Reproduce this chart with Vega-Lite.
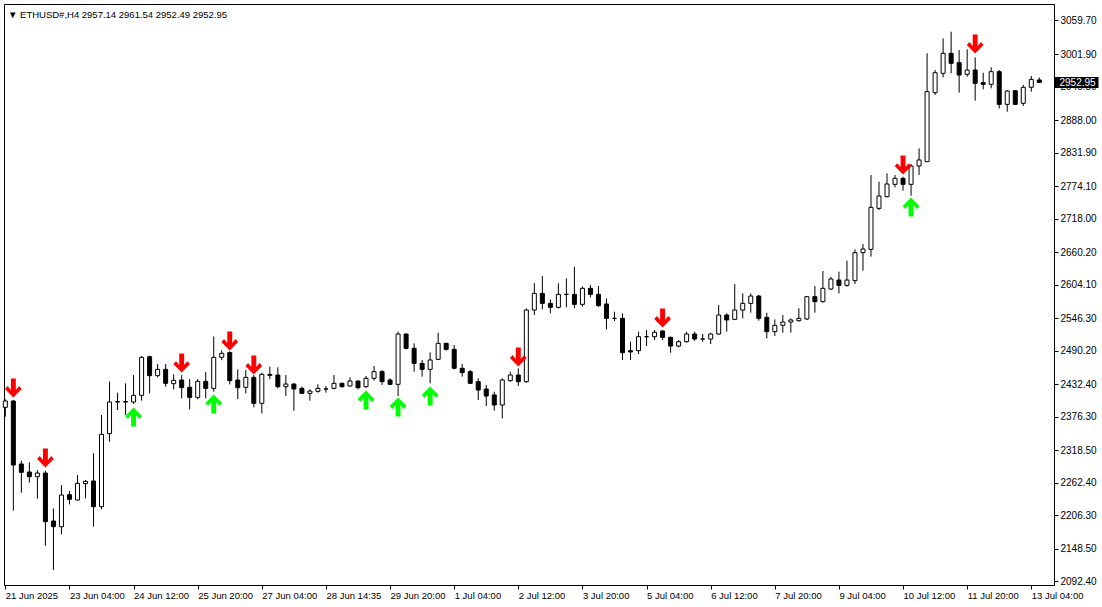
{
  "$schema": "https://vega.github.io/schema/vega-lite/v6.json",
  "width": 1050,
  "height": 581,
  "autosize": "none",
  "padding": {"left": 4, "top": 4, "right": 48, "bottom": 22},
  "background": "white",
  "title": {
    "text": "▼ ETHUSD#,H4  2957.14 2961.54 2952.49 2952.95",
    "anchor": "start",
    "frame": "group",
    "orient": "top",
    "baseline": "alphabetic",
    "offset": -12.5,
    "dx": 4,
    "dy": 10.5,
    "font": "Liberation Sans",
    "fontSize": 9.5,
    "fontWeight": "normal",
    "color": "black"
  },
  "data": {
    "values": [
      {"t": "21 Jun 2025", "o": 2392.7, "h": 2406.5, "l": 2376.6, "c": 2403.6},
      {"t": "22 Jun 00:00", "o": 2403.6, "h": 2405.3, "l": 2214.5, "c": 2293.2, "sell": 2426.0},
      {"t": "22 Jun 04:00", "o": 2295.0, "h": 2300.7, "l": 2245.5, "c": 2280.6},
      {"t": "22 Jun 08:00", "o": 2281.2, "h": 2297.8, "l": 2262.8, "c": 2273.1},
      {"t": "22 Jun 12:00", "o": 2273.1, "h": 2284.6, "l": 2235.2, "c": 2279.4},
      {"t": "22 Jun 16:00", "o": 2279.4, "h": 2283.5, "l": 2154.1, "c": 2195.5, "sell": 2305.3},
      {"t": "22 Jun 20:00", "o": 2196.7, "h": 2218.5, "l": 2112.2, "c": 2186.9},
      {"t": "23 Jun 00:00", "o": 2186.9, "h": 2258.8, "l": 2173.7, "c": 2241.5},
      {"t": "23 Jun 04:00", "o": 2242.1, "h": 2248.4, "l": 2225.4, "c": 2234.0},
      {"t": "23 Jun 08:00", "o": 2232.9, "h": 2276.0, "l": 2231.7, "c": 2261.6},
      {"t": "23 Jun 12:00", "o": 2261.1, "h": 2267.4, "l": 2235.8, "c": 2265.1},
      {"t": "23 Jun 16:00", "o": 2265.7, "h": 2313.4, "l": 2186.9, "c": 2221.4},
      {"t": "23 Jun 20:00", "o": 2221.4, "h": 2379.5, "l": 2216.8, "c": 2346.1},
      {"t": "24 Jun 00:00", "o": 2347.3, "h": 2437.0, "l": 2333.5, "c": 2401.9},
      {"t": "24 Jun 04:00", "o": 2402.5, "h": 2418.0, "l": 2388.1, "c": 2401.9},
      {"t": "24 Jun 08:00", "o": 2402.5, "h": 2434.1, "l": 2379.5, "c": 2401.9},
      {"t": "24 Jun 12:00", "o": 2401.9, "h": 2448.4, "l": 2398.4, "c": 2413.4, "buy": 2376.0},
      {"t": "24 Jun 16:00", "o": 2413.4, "h": 2481.2, "l": 2404.2, "c": 2478.9},
      {"t": "24 Jun 20:00", "o": 2480.0, "h": 2481.8, "l": 2416.8, "c": 2447.3},
      {"t": "25 Jun 00:00", "o": 2447.3, "h": 2467.4, "l": 2444.4, "c": 2458.2},
      {"t": "25 Jun 04:00", "o": 2458.2, "h": 2467.4, "l": 2428.3, "c": 2434.1},
      {"t": "25 Jun 08:00", "o": 2433.5, "h": 2449.6, "l": 2423.7, "c": 2439.2},
      {"t": "25 Jun 12:00", "o": 2439.8, "h": 2448.4, "l": 2408.2, "c": 2426.6, "sell": 2469.1},
      {"t": "25 Jun 16:00", "o": 2427.2, "h": 2441.5, "l": 2389.2, "c": 2409.9},
      {"t": "25 Jun 20:00", "o": 2409.9, "h": 2441.5, "l": 2406.5, "c": 2437.5},
      {"t": "26 Jun 00:00", "o": 2437.5, "h": 2453.6, "l": 2408.2, "c": 2425.4},
      {"t": "26 Jun 04:00", "o": 2425.4, "h": 2515.0, "l": 2419.7, "c": 2478.9, "buy": 2398.4},
      {"t": "26 Jun 08:00", "o": 2478.9, "h": 2491.0, "l": 2474.0, "c": 2485.8},
      {"t": "26 Jun 12:00", "o": 2487.0, "h": 2489.5, "l": 2432.3, "c": 2438.7, "sell": 2507.1},
      {"t": "26 Jun 16:00", "o": 2439.8, "h": 2458.2, "l": 2407.0, "c": 2426.6},
      {"t": "26 Jun 20:00", "o": 2427.2, "h": 2457.0, "l": 2416.8, "c": 2444.4},
      {"t": "27 Jun 00:00", "o": 2444.4, "h": 2448.4, "l": 2392.7, "c": 2399.6, "sell": 2465.7},
      {"t": "27 Jun 04:00", "o": 2399.6, "h": 2452.5, "l": 2382.3, "c": 2449.6},
      {"t": "27 Jun 08:00", "o": 2449.6, "h": 2462.8, "l": 2441.0, "c": 2447.9},
      {"t": "27 Jun 12:00", "o": 2448.4, "h": 2461.7, "l": 2425.4, "c": 2428.3},
      {"t": "27 Jun 16:00", "o": 2428.3, "h": 2448.4, "l": 2412.2, "c": 2432.9},
      {"t": "27 Jun 20:00", "o": 2432.9, "h": 2434.1, "l": 2386.9, "c": 2424.3},
      {"t": "28 Jun 00:00", "o": 2425.4, "h": 2428.3, "l": 2415.7, "c": 2416.8},
      {"t": "28 Jun 04:00", "o": 2416.8, "h": 2423.7, "l": 2404.2, "c": 2420.8},
      {"t": "28 Jun 08:00", "o": 2420.3, "h": 2432.3, "l": 2418.0, "c": 2425.4},
      {"t": "28 Jun 14:35", "o": 2424.3, "h": 2429.5, "l": 2418.0, "c": 2424.3},
      {"t": "28 Jun 16:00", "o": 2425.4, "h": 2448.4, "l": 2423.7, "c": 2434.1},
      {"t": "28 Jun 20:00", "o": 2434.1, "h": 2435.2, "l": 2426.6, "c": 2428.3},
      {"t": "29 Jun 00:00", "o": 2429.5, "h": 2444.4, "l": 2428.3, "c": 2438.1},
      {"t": "29 Jun 04:00", "o": 2438.1, "h": 2438.7, "l": 2423.7, "c": 2426.6},
      {"t": "29 Jun 08:00", "o": 2428.3, "h": 2446.7, "l": 2426.6, "c": 2442.7, "buy": 2405.3},
      {"t": "29 Jun 12:00", "o": 2442.7, "h": 2464.0, "l": 2438.7, "c": 2454.2},
      {"t": "29 Jun 16:00", "o": 2454.2, "h": 2457.0, "l": 2431.2, "c": 2437.0},
      {"t": "29 Jun 20:00", "o": 2439.8, "h": 2442.7, "l": 2431.2, "c": 2432.3},
      {"t": "30 Jun 00:00", "o": 2432.3, "h": 2523.2, "l": 2412.2, "c": 2519.1, "buy": 2393.3},
      {"t": "30 Jun 04:00", "o": 2519.1, "h": 2520.3, "l": 2492.7, "c": 2494.4},
      {"t": "30 Jun 08:00", "o": 2494.4, "h": 2503.0, "l": 2454.2, "c": 2468.5},
      {"t": "30 Jun 12:00", "o": 2468.5, "h": 2474.3, "l": 2445.6, "c": 2458.2},
      {"t": "30 Jun 16:00", "o": 2458.2, "h": 2487.5, "l": 2434.1, "c": 2474.3, "buy": 2412.2},
      {"t": "30 Jun 20:00", "o": 2475.4, "h": 2521.4, "l": 2474.3, "c": 2503.0},
      {"t": "1 Jul 00:00", "o": 2503.0, "h": 2504.2, "l": 2490.4, "c": 2492.7},
      {"t": "1 Jul 04:00", "o": 2492.7, "h": 2500.2, "l": 2458.2, "c": 2460.0},
      {"t": "1 Jul 08:00", "o": 2460.0, "h": 2467.4, "l": 2445.6, "c": 2452.5},
      {"t": "1 Jul 12:00", "o": 2454.2, "h": 2457.0, "l": 2432.9, "c": 2434.1},
      {"t": "1 Jul 16:00", "o": 2436.9, "h": 2442.7, "l": 2405.3, "c": 2422.6},
      {"t": "1 Jul 20:00", "o": 2424.3, "h": 2431.2, "l": 2395.0, "c": 2412.2},
      {"t": "2 Jul 00:00", "o": 2414.0, "h": 2419.7, "l": 2386.9, "c": 2396.7},
      {"t": "2 Jul 04:00", "o": 2396.7, "h": 2442.7, "l": 2373.7, "c": 2439.8},
      {"t": "2 Jul 08:00", "o": 2438.7, "h": 2454.2, "l": 2436.9, "c": 2448.4},
      {"t": "2 Jul 12:00", "o": 2448.4, "h": 2459.9, "l": 2429.5, "c": 2436.9, "sell": 2479.5},
      {"t": "2 Jul 16:00", "o": 2436.9, "h": 2563.4, "l": 2435.0, "c": 2560.5},
      {"t": "2 Jul 20:00", "o": 2560.5, "h": 2606.5, "l": 2551.9, "c": 2589.2},
      {"t": "3 Jul 00:00", "o": 2589.2, "h": 2619.1, "l": 2561.7, "c": 2572.0},
      {"t": "3 Jul 04:00", "o": 2572.0, "h": 2578.9, "l": 2554.8, "c": 2565.1},
      {"t": "3 Jul 08:00", "o": 2565.1, "h": 2606.5, "l": 2563.0, "c": 2587.5},
      {"t": "3 Jul 12:00", "o": 2587.5, "h": 2615.1, "l": 2565.1, "c": 2587.5},
      {"t": "3 Jul 16:00", "o": 2587.5, "h": 2635.2, "l": 2563.4, "c": 2570.3},
      {"t": "3 Jul 20:00", "o": 2570.3, "h": 2601.0, "l": 2566.3, "c": 2597.9},
      {"t": "4 Jul 00:00", "o": 2597.9, "h": 2603.6, "l": 2582.3, "c": 2587.5},
      {"t": "4 Jul 04:00", "o": 2587.5, "h": 2601.9, "l": 2566.0, "c": 2568.0},
      {"t": "4 Jul 08:00", "o": 2570.9, "h": 2580.6, "l": 2527.2, "c": 2546.1},
      {"t": "4 Jul 12:00", "o": 2546.1, "h": 2557.6, "l": 2541.5, "c": 2546.1},
      {"t": "4 Jul 16:00", "o": 2546.1, "h": 2554.8, "l": 2474.3, "c": 2486.9},
      {"t": "4 Jul 20:00", "o": 2490.4, "h": 2505.9, "l": 2474.3, "c": 2488.1},
      {"t": "5 Jul 00:00", "o": 2490.4, "h": 2523.2, "l": 2484.6, "c": 2514.5},
      {"t": "5 Jul 04:00", "o": 2514.5, "h": 2526.0, "l": 2498.4, "c": 2514.5},
      {"t": "5 Jul 08:00", "o": 2514.5, "h": 2526.0, "l": 2508.8, "c": 2522.0},
      {"t": "5 Jul 12:00", "o": 2524.3, "h": 2526.0, "l": 2508.8, "c": 2513.4, "sell": 2546.7},
      {"t": "5 Jul 16:00", "o": 2513.4, "h": 2514.5, "l": 2486.9, "c": 2498.4},
      {"t": "5 Jul 20:00", "o": 2498.4, "h": 2508.8, "l": 2496.1, "c": 2505.9},
      {"t": "6 Jul 00:00", "o": 2505.9, "h": 2523.2, "l": 2504.2, "c": 2519.1},
      {"t": "6 Jul 04:00", "o": 2519.1, "h": 2523.2, "l": 2507.6, "c": 2510.5},
      {"t": "6 Jul 08:00", "o": 2510.5, "h": 2519.1, "l": 2505.9, "c": 2510.5},
      {"t": "6 Jul 12:00", "o": 2510.5, "h": 2521.4, "l": 2501.9, "c": 2519.1},
      {"t": "6 Jul 16:00", "o": 2519.1, "h": 2569.1, "l": 2517.4, "c": 2551.9},
      {"t": "6 Jul 20:00", "o": 2551.9, "h": 2554.8, "l": 2523.2, "c": 2543.3},
      {"t": "7 Jul 00:00", "o": 2544.4, "h": 2605.3, "l": 2543.3, "c": 2560.5},
      {"t": "7 Jul 04:00", "o": 2560.5, "h": 2589.2, "l": 2546.1, "c": 2572.0},
      {"t": "7 Jul 08:00", "o": 2572.0, "h": 2589.2, "l": 2555.9, "c": 2584.6},
      {"t": "7 Jul 12:00", "o": 2584.6, "h": 2586.4, "l": 2542.1, "c": 2546.1},
      {"t": "7 Jul 16:00", "o": 2547.9, "h": 2555.9, "l": 2511.7, "c": 2523.2},
      {"t": "7 Jul 20:00", "o": 2523.2, "h": 2544.4, "l": 2515.7, "c": 2534.1},
      {"t": "8 Jul 00:00", "o": 2534.1, "h": 2551.9, "l": 2521.4, "c": 2539.8},
      {"t": "8 Jul 04:00", "o": 2539.8, "h": 2546.1, "l": 2521.4, "c": 2543.3},
      {"t": "8 Jul 08:00", "o": 2542.1, "h": 2563.4, "l": 2540.4, "c": 2546.1},
      {"t": "8 Jul 12:00", "o": 2545.0, "h": 2584.6, "l": 2543.3, "c": 2583.5},
      {"t": "8 Jul 16:00", "o": 2583.5, "h": 2601.9, "l": 2555.9, "c": 2574.9},
      {"t": "8 Jul 20:00", "o": 2574.9, "h": 2627.8, "l": 2573.2, "c": 2597.9},
      {"t": "9 Jul 00:00", "o": 2596.7, "h": 2618.0, "l": 2595.0, "c": 2614.0},
      {"t": "9 Jul 04:00", "o": 2612.2, "h": 2626.6, "l": 2589.2, "c": 2603.0},
      {"t": "9 Jul 08:00", "o": 2603.0, "h": 2645.6, "l": 2600.7, "c": 2612.2},
      {"t": "9 Jul 12:00", "o": 2611.1, "h": 2665.1, "l": 2605.3, "c": 2659.4},
      {"t": "9 Jul 16:00", "o": 2659.4, "h": 2674.3, "l": 2628.3, "c": 2665.7},
      {"t": "9 Jul 20:00", "o": 2665.1, "h": 2793.3, "l": 2652.5, "c": 2737.5},
      {"t": "10 Jul 00:00", "o": 2735.8, "h": 2781.8, "l": 2732.9, "c": 2757.1},
      {"t": "10 Jul 04:00", "o": 2755.9, "h": 2796.2, "l": 2754.8, "c": 2777.8},
      {"t": "10 Jul 08:00", "o": 2777.2, "h": 2793.3, "l": 2772.0, "c": 2787.5},
      {"t": "10 Jul 12:00", "o": 2787.5, "h": 2790.4, "l": 2766.3, "c": 2777.2, "sell": 2810.5},
      {"t": "10 Jul 16:00", "o": 2777.2, "h": 2812.3, "l": 2757.6, "c": 2808.8, "buy": 2738.1},
      {"t": "10 Jul 20:00", "o": 2808.8, "h": 2839.3, "l": 2793.3, "c": 2819.2},
      {"t": "11 Jul 00:00", "o": 2816.3, "h": 3003.1, "l": 2816.3, "c": 2937.0},
      {"t": "11 Jul 04:00", "o": 2935.3, "h": 2974.3, "l": 2931.2, "c": 2969.7},
      {"t": "11 Jul 08:00", "o": 2968.6, "h": 3028.9, "l": 2961.7, "c": 3003.1},
      {"t": "11 Jul 12:00", "o": 3003.1, "h": 3040.4, "l": 2968.6, "c": 2985.8},
      {"t": "11 Jul 16:00", "o": 2987.0, "h": 3008.8, "l": 2935.3, "c": 2965.7},
      {"t": "11 Jul 20:00", "o": 2966.9, "h": 3010.0, "l": 2962.8, "c": 2974.3},
      {"t": "12 Jul 00:00", "o": 2974.3, "h": 2996.2, "l": 2921.5, "c": 2951.3, "sell": 3019.2},
      {"t": "12 Jul 04:00", "o": 2952.5, "h": 2969.7, "l": 2941.0, "c": 2949.6},
      {"t": "12 Jul 08:00", "o": 2949.6, "h": 2979.0, "l": 2942.7, "c": 2971.5},
      {"t": "12 Jul 12:00", "o": 2971.5, "h": 2974.3, "l": 2908.2, "c": 2915.1},
      {"t": "12 Jul 16:00", "o": 2915.1, "h": 2939.9, "l": 2902.5, "c": 2938.1},
      {"t": "12 Jul 20:00", "o": 2938.7, "h": 2939.9, "l": 2914.0, "c": 2915.1},
      {"t": "13 Jul 00:00", "o": 2916.9, "h": 2948.5, "l": 2912.3, "c": 2944.5},
      {"t": "13 Jul 04:00", "o": 2944.5, "h": 2964.0, "l": 2937.0, "c": 2958.2},
      {"t": "13 Jul 08:00", "o": 2957.14, "h": 2961.54, "l": 2952.49, "c": 2952.95}
    ]
  },
  "encoding": {
    "x": {
      "field": "t",
      "type": "ordinal",
      "sort": null,
      "scale": {"type": "point", "padding": 1.125, "align": 0.08333},
      "axis": {
        "orient": "bottom",
        "title": null,
        "values": ["21 Jun 2025", "23 Jun 04:00", "24 Jun 12:00", "25 Jun 20:00", "27 Jun 04:00", "28 Jun 14:35", "29 Jun 20:00", "1 Jul 04:00", "2 Jul 12:00", "3 Jul 20:00", "5 Jul 04:00", "6 Jul 12:00", "7 Jul 20:00", "9 Jul 04:00", "10 Jul 12:00", "11 Jul 20:00", "13 Jul 04:00"],
        "labelAngle": 0,
        "labelAlign": "left",
        "labelBaseline": "top",
        "labelPadding": 1,
        "labelFont": "Liberation Sans",
        "labelFontSize": 9.5,
        "labelColor": "black",
        "labelOverlap": false,
        "labelFlush": false,
        "tickSize": 4,
        "tickColor": "black",
        "domainColor": "black",
        "grid": false
      }
    }
  },
  "layer": [
    {
      "mark": {"type": "rule", "color": "black", "strokeWidth": 1},
      "encoding": {
        "y": {
          "field": "l",
          "type": "quantitative",
          "scale": {"domain": [2086.36, 3088.15], "zero": false, "nice": false},
          "axis": {
            "orient": "right",
            "title": null,
            "values": [3059.7, 3001.9, 2945.8, 2888.0, 2831.9, 2774.1, 2718.0, 2660.2, 2604.1, 2546.3, 2490.2, 2432.4, 2376.3, 2318.5, 2262.4, 2206.3, 2148.5, 2092.4],
            "format": ".2f",
            "labelFont": "Liberation Sans",
            "labelFontSize": 10,
            "labelColor": "black",
            "labelPadding": 2,
            "labelOverlap": false,
            "labelFlush": false,
            "tickSize": 4,
            "tickColor": "black",
            "domainColor": "black",
            "grid": false,
            "zindex": 0
          }
        },
        "y2": {"field": "h"}
      }
    },
    {
      "mark": {"type": "bar", "size": 4, "stroke": "black", "strokeWidth": 1},
      "encoding": {
        "y": {
          "field": "o",
          "type": "quantitative",
          "axis": {
            "orient": "right",
            "title": null,
            "values": [2952.95],
            "format": ".2f",
            "domain": false,
            "grid": false,
            "tickSize": 44,
            "tickWidth": 11,
            "tickColor": "black",
            "labelColor": "white",
            "labelPadding": -39,
            "labelFont": "Liberation Sans",
            "labelFontSize": 10,
            "labelOverlap": false,
            "labelFlush": false,
            "zindex": 1
          }
        },
        "y2": {"field": "c"},
        "fill": {"condition": {"test": "datum.c >= datum.o", "value": "white"}, "value": "black"}
      }
    },
    {
      "transform": [{"filter": "isValid(datum.sell)"}],
      "mark": {
        "type": "point",
        "shape": "M-0.26,-1L0.26,-1L0.26,0.22L0.6,-0.2L0.88,0.1L0,1L-0.88,0.1L-0.6,-0.2L-0.26,0.22Z",
        "size": 361,
        "filled": true,
        "color": "#ff0000",
        "opacity": 1,
        "strokeWidth": 0
      },
      "encoding": {"y": {"field": "sell", "type": "quantitative", "axis": null}}
    },
    {
      "transform": [{"filter": "isValid(datum.buy)"}],
      "mark": {
        "type": "point",
        "shape": "M-0.26,1L0.26,1L0.26,-0.22L0.6,0.2L0.88,-0.1L0,-1L-0.88,-0.1L-0.6,0.2L-0.26,-0.22Z",
        "size": 361,
        "filled": true,
        "color": "#00ff00",
        "opacity": 1,
        "strokeWidth": 0
      },
      "encoding": {"y": {"field": "buy", "type": "quantitative", "axis": null}}
    }
  ],
  "resolve": {"axis": {"y": "independent"}},
  "config": {
    "view": {"stroke": "black", "strokeWidth": 1},
    "font": "Liberation Sans"
  }
}
